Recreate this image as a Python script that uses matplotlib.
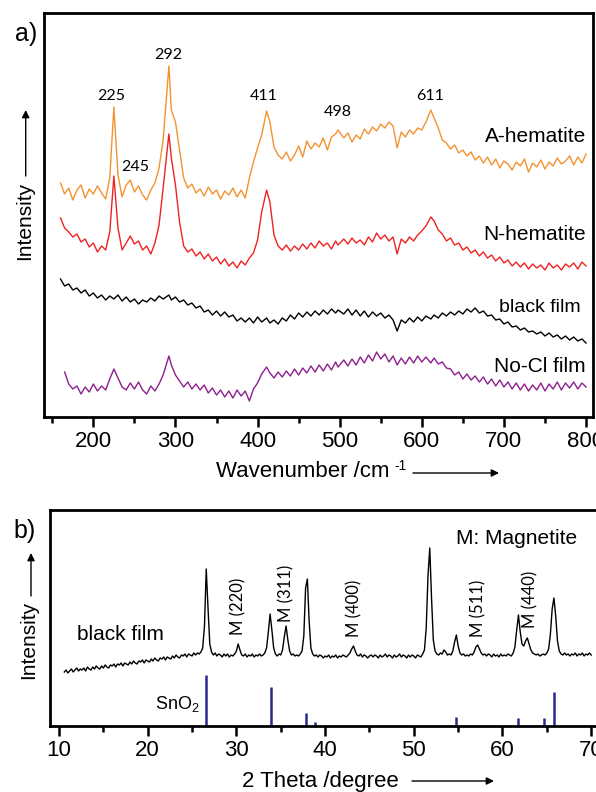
import numpy as np
import matplotlib
matplotlib.use("Agg")
import matplotlib.pyplot as plt
from matplotlib.ticker import MultipleLocator

plt.rcParams['font.family'] = ['Liberation Sans', 'DejaVu Sans']
plt.rcParams['mathtext.default'] = 'regular'

# ---- Raman spectra (panel a), intensity in arbitrary units ----
peak_labels = [225, 245, 292, 411, 498, 611]
wavenumber = np.arange(160, 801, 5)
for p in peak_labels:
    wavenumber[np.argmin(np.abs(wavenumber - p))] = p

a_hematite = [
    234, 223, 229, 217, 227, 232, 219, 228, 223, 231, 224, 218, 239, 310, 242, 220,
    232, 237, 225, 231, 222, 217, 227, 234, 249, 277, 351, 307, 295, 267, 239, 229,
    233, 224, 228, 221, 230, 223, 227, 218, 226, 222, 229, 220, 227, 219, 239, 255,
    269, 282, 306, 295, 270, 262, 258, 265, 256, 262, 271, 260, 276, 268, 274, 270,
    279, 267, 280, 283, 287, 279, 284, 275, 282, 278, 288, 283, 290, 286, 293, 289,
    295, 291, 269, 285, 280, 287, 283, 289, 287, 295, 307, 299, 289, 277, 274, 268,
    272, 264, 267, 261, 265, 257, 261, 254, 260, 252, 258, 249, 256, 253, 247, 255,
    251, 258, 245, 254, 250, 257, 248, 255, 251, 259, 253, 256, 261, 252, 260, 254,
    263]
n_hematite = [
    199, 189, 185, 180, 183, 175, 178, 170, 174, 165, 171, 167, 185, 241, 189, 167,
    174, 181, 173, 176, 167, 171, 163, 174, 192, 229, 283, 259, 232, 195, 171, 165,
    168, 161, 165, 158, 163, 156, 160, 153, 158, 151, 155, 149, 156, 152, 159, 164,
    177, 205, 227, 215, 182, 171, 167, 172, 166, 171, 167, 173, 168, 174, 169, 176,
    171, 174, 168, 176, 172, 178, 173, 179, 174, 177, 172, 180, 175, 184, 178, 182,
    176, 180, 163, 178, 174, 180, 176, 182, 186, 191, 200, 196, 187, 183, 176, 179,
    172, 174, 167, 170, 164, 167, 161, 165, 159, 162, 156, 160, 154, 157, 151, 155,
    150, 154, 148, 153, 149, 152, 147, 154, 149, 152, 147, 153, 150, 154, 148, 155,
    151]
black_film_a = [
    138, 131, 133, 127, 129, 124, 127, 121, 124, 119, 122, 117, 121, 118, 122, 116,
    120, 115, 118, 113, 117, 115, 119, 116, 121, 118, 122, 117, 120, 115, 117, 112,
    114, 109, 111, 105, 107, 102, 106, 101, 105, 100, 102, 96, 99, 95, 99, 94,
    100, 95, 99, 94, 97, 93, 99, 96, 102, 98, 104, 100, 105, 101, 106, 102,
    107, 103, 108, 104, 107, 103, 108, 102, 107, 101, 106, 100, 105, 101, 104, 99,
    102, 97, 86, 97, 94, 99, 95, 100, 96, 101, 98, 102, 99, 104, 101, 105,
    102, 106, 103, 108, 105, 109, 104, 106, 101, 102, 97, 98, 93, 95, 90, 91,
    87, 89, 85, 86, 83, 85, 81, 84, 80, 82, 78, 81, 77, 80, 76, 78,
    74]
no_cl_film = [
    np.nan, 45, 33, 28, 31, 23, 30, 25, 33, 26, 31, 27, 38, 48, 39, 30,
    27, 34, 28, 35, 27, 23, 31, 26, 33, 42, 61, 52, 42, 36, 30, 35,
    28, 33, 27, 32, 24, 29, 22, 27, 20, 26, 19, 27, 21, 26, 16, 28,
    34, 43, 50, 44, 39, 45, 40, 46, 41, 48, 42, 49, 44, 51, 45, 52,
    46, 53, 47, 55, 50, 57, 51, 58, 52, 60, 54, 62, 56, 65, 58, 63,
    55, 61, 52, 59, 53, 60, 54, 61, 55, 60, 54, 59, 53, 55, 49, 48,
    42, 45, 38, 43, 37, 41, 35, 40, 33, 38, 31, 37, 30, 35, 28, 34,
    27, 33, 26, 32, 27, 34, 26, 33, 28, 35, 27, 34, 29, 35, 28, 34,
    30]

# ---- XRD pattern (panel b) ----
two_theta = np.round(np.arange(10.6, 70.01, 0.2), 1)
xrd_black_film = [
    54, 56, 53, 55, 57, 54, 56, 58, 55, 57, 56, 58, 55, 59, 57, 56, 59, 57, 60, 58,
    57, 60, 58, 61, 59, 58, 61, 60, 62, 59, 62, 61, 63, 60, 63, 62, 61, 64, 62, 65,
    63, 62, 65, 64, 66, 63, 66, 65, 64, 67, 65, 68, 66, 65, 68, 67, 69, 66, 69, 68,
    67, 70, 68, 71, 69, 68, 71, 70, 72, 69, 72, 71, 70, 73, 71, 73, 72, 74, 78, 100,
    157, 118, 82, 74, 71, 73, 70, 72, 71, 69, 72, 70, 72, 69, 71, 70, 72, 75, 82, 76,
    71, 70, 72, 69, 71, 70, 72, 69, 71, 70, 72, 70, 71, 73, 78, 94, 112, 96, 78, 72,
    70, 72, 71, 76, 89, 100, 86, 75, 71, 72, 70, 71, 70, 72, 75, 90, 138, 147, 105, 78,
    72, 70, 71, 69, 71, 70, 68, 70, 69, 71, 68, 70, 69, 71, 68, 70, 69, 71, 70, 69,
    71, 73, 77, 80, 75, 71, 70, 72, 69, 71, 70, 68, 70, 71, 69, 71, 70, 68, 71, 69,
    70, 72, 69, 71, 70, 68, 71, 69, 70, 72, 69, 71, 70, 68, 71, 69, 71, 70, 68, 71,
    70, 69, 72, 76, 98, 150, 178, 128, 86, 75, 72, 71, 73, 72, 76, 74, 71, 72, 71, 75,
    84, 91, 80, 73, 71, 72, 70, 71, 70, 72, 71, 74, 79, 81, 77, 73, 71, 72, 70, 72,
    71, 69, 72, 70, 71, 69, 72, 70, 71, 70, 72, 71, 70, 73, 79, 96, 111, 94, 82, 80,
    85, 88, 82, 76, 73, 72, 71, 72, 70, 71, 72, 71, 73, 77, 92, 117, 128, 110, 85, 75,
    72, 71, 73, 71, 72, 70, 72, 71, 73, 70, 72, 71, 73, 70, 72, 71, 73, 71]

sno2_pos = [26.6, 33.9, 37.9, 38.9, 54.75, 61.8, 64.65, 65.85]
sno2_height = [51, 39, 13, 4.5, 9.5, 8, 8.5, 34.5]

magnetite_labels = ['M (220)', 'M (311)', 'M (400)', 'M (511)', 'M (440)']
magnetite_pos = [30.2, 35.65, 43.35, 57.3, 63.1]
magnetite_base = [91, 104, 89, 89, 98]

W, H = 596, 792


def fig_xy(x, y):
    # pixel position measured from the top-left corner -> figure fraction
    return x / W, 1 - y / H


def arrow(ax, start, end):
    ax.annotate('', xy=fig_xy(*end), xytext=fig_xy(*start),
                xycoords='figure fraction', textcoords='figure fraction',
                arrowprops=dict(arrowstyle='-|>', color='black', lw=1.0,
                                mutation_scale=11, shrinkA=0, shrinkB=0))


def style_axes(ax):
    for s in ax.spines.values():
        s.set_linewidth(2.0)
    ax.set_yticks([])
    ax.tick_params(axis='x', which='major', direction='out', length=7, width=1.8,
                   labelsize=16, pad=3)
    ax.tick_params(axis='x', which='minor', direction='out', length=4, width=1.8)


fig = plt.figure(figsize=(W / 100, H / 100), dpi=100)

# ---------------- panel a ----------------
ax = fig.add_axes([44 / W, 1 - 417 / H, (593 - 44) / W, (417 - 13.3) / H])
ax.plot(wavenumber, a_hematite, color='#f39230', lw=1.0)
ax.plot(wavenumber, n_hematite, color='#ee2222', lw=1.0)
ax.plot(wavenumber, black_film_a, color='black', lw=1.0)
ax.plot(wavenumber, no_cl_film, color='#8e1f8e', lw=1.0)
ax.set_xlim(139.9, 808.5)
ax.set_ylim(0, 403.7)
ax.xaxis.set_major_locator(MultipleLocator(100))
ax.xaxis.set_minor_locator(MultipleLocator(50))
style_axes(ax)

# peak positions written above the A-hematite trace
label_spots = {225: (222, 321), 245: (251, 250), 292: (291, 362),
               411: (408, 321), 498: (498, 305), 611: (610, 321)}
for p in peak_labels:
    x, y = label_spots[p]
    ax.text(x, y, str(p), ha='center', va='center', fontsize=11.5,
            family=['Lato', 'DejaVu Sans'])

ax.text(800, 281, 'A-hematite', ha='right', va='center', fontsize=15)
ax.text(800, 182, 'N-hematite', ha='right', va='center', fontsize=15)
ax.text(794, 109, 'black film', ha='right', va='center', fontsize=14)
ax.text(800, 51, 'No-Cl film', ha='right', va='center', fontsize=15)

fig.text(*fig_xy(26, 34), 'a)', fontsize=18, ha='center', va='center')
fig.text(*fig_xy(24.5, 221), 'Intensity', rotation=90, fontsize=15,
         ha='center', va='center')
arrow(ax, (25.7, 176), (25.7, 110))
fig.text(*fig_xy(216, 472), 'Wavenumber /cm', fontsize=16,
         ha='left', va='center')
fig.text(*fig_xy(394, 466), '-1', fontsize=10, ha='left', va='center')
arrow(ax, (413, 473), (499, 473))

# ---------------- panel b ----------------
bx = fig.add_axes([50 / W, 1 - 726 / H, (604.5 - 50) / W, (726 - 510) / H])
bx.plot(two_theta, xrd_black_film, color='black', lw=1.0)
bx.vlines(sno2_pos, 0, sno2_height, color='#2b2b8c', lw=1.8)
bx.set_xlim(8.985, 71.5)
bx.set_ylim(0, 216)
bx.xaxis.set_major_locator(MultipleLocator(10))
bx.xaxis.set_minor_locator(MultipleLocator(5))
style_axes(bx)

for name, x, y in zip(magnetite_labels, magnetite_pos, magnetite_base):
    bx.text(x, y, name, rotation=90, ha='center', va='bottom', fontsize=12,
            family=['Lato', 'DejaVu Sans'])
bx.text(12.0, 91, 'black film', ha='left', va='center', fontsize=15)
bx.text(25.9, 22, 'SnO$_2$', ha='right', va='center', fontsize=13)
bx.text(54.8, 188, 'M: Magnetite', ha='left', va='center', fontsize=15)

fig.text(*fig_xy(25, 531), 'b)', fontsize=18, ha='center', va='center')
fig.text(*fig_xy(29, 640), 'Intensity', rotation=90, fontsize=15,
         ha='center', va='center')
arrow(bx, (31, 596), (31, 553))
fig.text(*fig_xy(242, 781), '2 Theta /degree', fontsize=16,
         ha='left', va='center')
arrow(bx, (412, 781), (494, 781))

fig.savefig('out.png', dpi=100)
